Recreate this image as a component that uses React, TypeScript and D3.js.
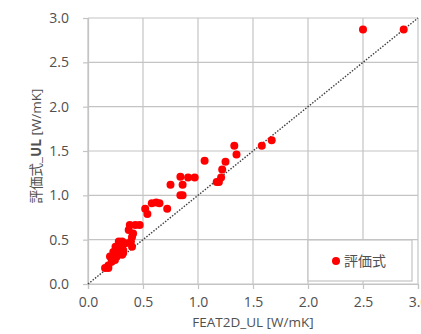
import React, { useEffect, useRef } from "react";
import * as d3 from "d3";

// FEAT2D_UL vs 評価式_UL
const feat2d = [
  1.33, 1.35, 1.58, 1.67, 1.06, 1.25, 1.22, 1.21, 1.19, 1.17,
  0.84, 0.91, 0.97, 0.75, 0.86, 0.84, 0.86, 0.52, 0.54, 0.58,
  0.62, 0.65, 0.72, 0.38, 0.43, 0.47, 0.37, 0.41, 0.40, 0.39,
  0.40, 0.31, 0.28, 0.34, 0.25, 0.29, 0.32, 0.23, 0.28, 0.32,
  0.20, 0.26, 0.31, 0.215, 0.245, 0.185, 0.155, 0.185, 2.50, 2.87,
];
const hyouka = [
  1.56, 1.46, 1.56, 1.62, 1.39, 1.38, 1.29, 1.20, 1.15, 1.15,
  1.21, 1.20, 1.20, 1.12, 1.12, 1.00, 1.00, 0.85, 0.79, 0.91,
  0.92, 0.91, 0.85, 0.665, 0.665, 0.665, 0.61, 0.57, 0.53, 0.48,
  0.42, 0.48, 0.48, 0.46, 0.42, 0.42, 0.38, 0.36, 0.35, 0.35,
  0.31, 0.31, 0.33, 0.25, 0.27, 0.21, 0.18, 0.18, 2.87, 2.87,
];
const ticks = [0, 0.5, 1, 1.5, 2, 2.5, 3];
const legendLabel = "評価式";

const App = () => {
  const ref = useRef<SVGSVGElement>(null);

  useEffect(() => {
    const width = 421;
    const height = 334;
    const margin = { top: 18, right: 3, bottom: 50, left: 88 };
    const svg = d3.select(ref.current)
      .attr("width", width)
      .attr("height", height);
    svg.selectAll("*").remove();

    const x = d3.scaleLinear().domain([0, 3]).range([margin.left, width - margin.right]);
    const y = d3.scaleLinear().domain([0, 3]).range([height - margin.bottom, margin.top]);
    const font = "'Open Sans', 'Noto Sans CJK JP', sans-serif";
    const grey = "#505050";

    // grid
    svg.append("g").selectAll("line").data(ticks).join("line")
      .attr("x1", d => x(d)).attr("x2", d => x(d))
      .attr("y1", y(0)).attr("y2", y(3))
      .attr("stroke", "#c4c4c4").attr("stroke-width", 1.2);
    svg.append("g").selectAll("line").data(ticks).join("line")
      .attr("x1", x(0)).attr("x2", x(3))
      .attr("y1", d => y(d)).attr("y2", d => y(d))
      .attr("stroke", "#c4c4c4").attr("stroke-width", 1.2);

    // axes
    const xAxis = d3.axisBottom(x).tickValues(ticks).tickFormat(d3.format(".1f")).tickSize(5).tickPadding(8);
    const yAxis = d3.axisLeft(y).tickValues(ticks).tickFormat(d3.format(".1f")).tickSize(5).tickPadding(14);
    const gx = svg.append("g").attr("transform", `translate(0,${y(0)})`).call(xAxis);
    const gy = svg.append("g").attr("transform", `translate(${x(0)},0)`).call(yAxis);
    [gx, gy].forEach(g => {
      g.select(".domain").attr("stroke", "#c4c4c4").attr("stroke-width", 1.2);
      g.selectAll(".tick line").attr("stroke", "#c4c4c4").attr("stroke-width", 1.2);
      g.selectAll(".tick text").attr("fill", grey).style("font-size", "14px").style("font-family", font);
    });

    // y = x reference line
    svg.append("line")
      .attr("x1", x(0)).attr("y1", y(0)).attr("x2", x(3)).attr("y2", y(3))
      .attr("stroke", "#404040").attr("stroke-width", 1.4)
      .attr("stroke-dasharray", "1.5 1.5");

    // points
    svg.append("g").selectAll("circle").data(feat2d).join("circle")
      .attr("cx", d => x(d)).attr("cy", (d, i) => y(hyouka[i]))
      .attr("r", 4).attr("fill", "#ff0000");

    // legend
    const lg = svg.append("g");
    lg.append("rect").attr("x", 308).attr("y", 240).attr("width", 104).attr("height", 41)
      .attr("fill", "#fff").attr("stroke", "#c4c4c4").attr("stroke-width", 1.2);
    lg.append("circle").attr("cx", 336).attr("cy", 261).attr("r", 4).attr("fill", "#ff0000");
    lg.append("text").attr("x", 344).attr("y", 266).attr("fill", grey)
      .style("font-size", "14px").style("font-family", font).text(legendLabel);

    // axis titles
    svg.append("text").attr("x", 253).attr("y", 327).attr("text-anchor", "middle")
      .attr("fill", grey).style("font-size", "13.5px").style("font-family", font)
      .text("FEAT2D_UL [W/mK]");
    const yt = svg.append("text").attr("transform", "rotate(-90)")
      .attr("x", -146).attr("y", 41).attr("text-anchor", "middle")
      .attr("fill", grey).style("font-size", "13.5px").style("font-family", font);
    yt.append("tspan").text("評価式_");
    yt.append("tspan").attr("font-weight", "bold").text("UL");
    yt.append("tspan").text(" [W/mK]");
  }, []);

  return <svg ref={ref} style={{ position: "absolute", left: 0, top: 0 }} />;
};

export default App;
